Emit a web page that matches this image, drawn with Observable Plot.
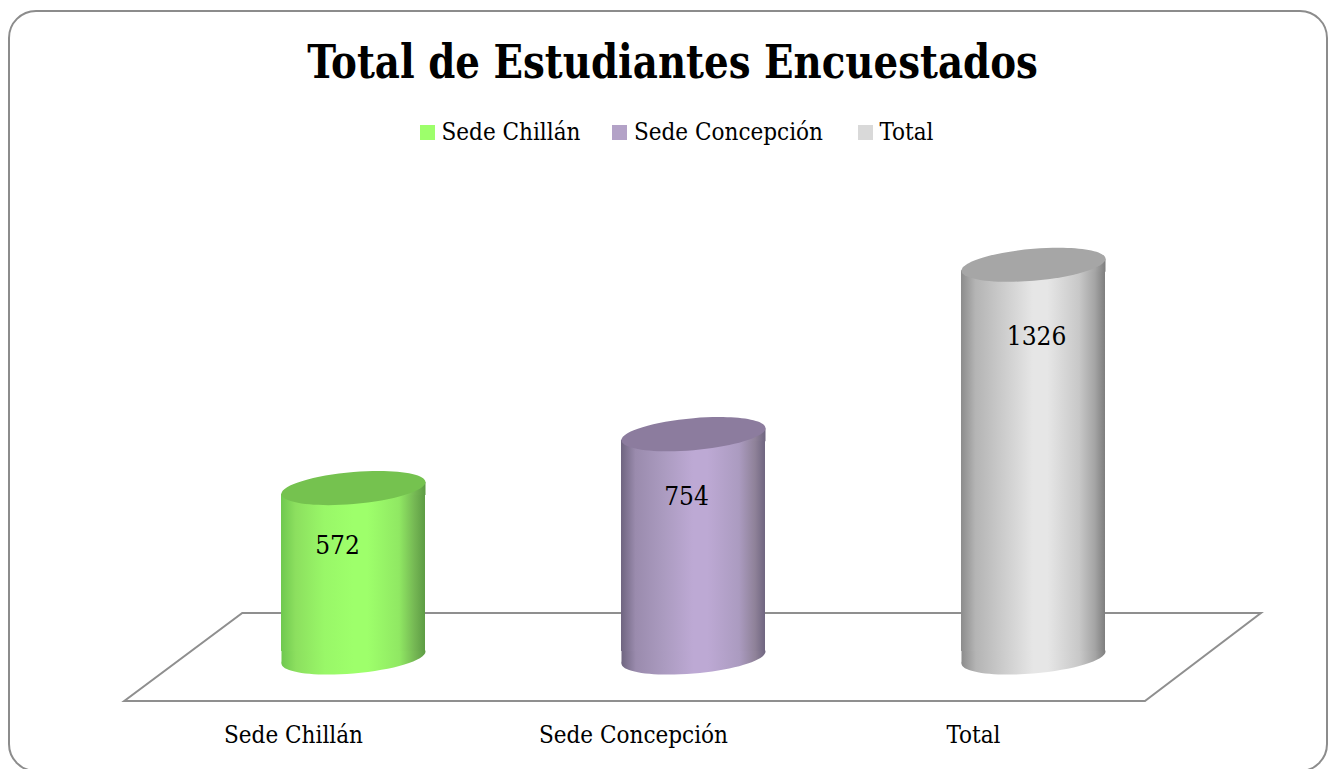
<!DOCTYPE html>
<html lang="es">
<head>
<meta charset="utf-8">
<script src="https://cdn.jsdelivr.net/npm/d3@7"></script>
<script src="https://cdn.jsdelivr.net/npm/@observablehq/plot@0.6"></script>
<style>
html,body{margin:0;padding:0;width:1336px;height:769px;overflow:hidden;background:#fff}
body{position:relative;font-family:"DejaVu Serif Condensed","DejaVu Serif",serif;color:#000}
#frame{position:absolute;left:8px;top:10px;width:1320px;height:762px;border:2px solid #8c8c8c;border-radius:28px;box-sizing:border-box}
h1{position:absolute;left:0;width:1345px;top:31px;margin:0;text-align:center;font-size:46px;line-height:62px;font-weight:700;transform:scaleX(.937);transform-origin:672.5px 0}
#legend{position:absolute;top:116px;left:420px;height:32px;display:flex;align-items:center;font-size:24px;white-space:nowrap}
#legend i{display:inline-block;width:15px;height:15px;margin-right:6.5px}
#legend span{display:inline-block}
#chart{position:absolute;left:0;top:160px}
</style>
</head>
<body>
<div id="frame"></div>
<h1>Total de Estudiantes Encuestados</h1>
<div id="legend"></div>
<div id="chart"></div>
<script>
const categories = ["Sede Chillán", "Sede Concepción", "Total"];
const values = [572, 754, 1326];
const legendColors = ["#9dff6b", "#b3a2c7", "#d9d9d9"];
const topColors = ["#75c24f", "#8c7c9e", "#a6a6a6"];
const sideStops = [
  ["#6fc84f", "#8cdf5f", "#99f768", "#9eff6b", "#9eff6b", "#90e863", "#74b653", "#5d9c44"],
  ["#6f6580", "#9a8bad", "#ab9bc0", "#bda9d4", "#bda9d4", "#ab9bc0", "#8f8299", "#6f6580"],
  ["#8c8c8c", "#b4b4b4", "#cdcdcd", "#e6e6e6", "#e6e6e6", "#c8c8c8", "#a4a4a4", "#7e7e7e"]
];
const stopOffsets = [0, 0.1, 0.3, 0.5, 0.6, 0.82, 0.93, 1];

const table = categories.map((name, i) => ({name, value: values[i], base: 0}));

const legend = document.getElementById("legend");
const legendGaps = [32, 35, 0];
categories.forEach((name, i) => {
  const sw = document.createElement("i");
  sw.style.background = legendColors[i];
  const tx = document.createElement("span");
  tx.textContent = name;
  tx.style.marginRight = legendGaps[i] + "px";
  legend.append(sw, tx);
});

const tilt = 0.083, squash = 0.111, K = 0.5523;
const capSymbol = {
  draw(c, size) {
    const a = Math.sqrt(size / Math.PI), b = a * (squash * 2), s = tilt;
    const P = (X, Y) => [a * X, -s * a * X + b * Y];
    const curve = (p1, p2, p3) => c.bezierCurveTo(...P(...p1), ...P(...p2), ...P(...p3));
    c.moveTo(...P(1, 0));
    curve([1, K], [K, 1], [0, 1]);
    curve([-K, 1], [-1, K], [-1, 0]);
    curve([-1, -K], [-K, -1], [0, -1]);
    curve([K, -1], [1, -K], [1, 0]);
    c.closePath();
  }
};
// Wedges that join the shortened bar to the tilted ellipses' tangent points; 1px overlap hides the seam
const topWedge = {
  draw(c, size) {
    const a = Math.sqrt(size / Math.PI), t = tilt * a;
    c.moveTo(-a, t + 1); c.lineTo(a, t + 1); c.lineTo(a, -t); c.closePath();
  }
};
const baseWedge = {
  draw(c, size) {
    const a = Math.sqrt(size / Math.PI), t = tilt * a;
    c.moveTo(-a, -t - 1); c.lineTo(a, -t - 1); c.lineTo(-a, t); c.closePath();
  }
};

const defsMark = () => {
  const d = document.createElementNS("http://www.w3.org/2000/svg", "defs");
  d.innerHTML = sideStops.map((st, i) =>
    `<linearGradient id="side${i}" x1="0" x2="1" y1="0" y2="0">` +
    st.map((col, j) => `<stop offset="${stopOffsets[j]}" stop-color="${col}"/>`).join("") +
    `</linearGradient>`).join("");
  return d;
};

const floorMark = (index, {x, y}) => {
  const g = document.createElementNS("http://www.w3.org/2000/svg", "path");
  const step = x(categories[1]) - x(categories[0]);
  const x0 = x(categories[0]) - 0.461 * step;
  const x1 = x(categories[2]) + x.bandwidth() + 0.1175 * step;
  const y0 = y(0), front = y0 + 44, back = y0 - 44;
  g.setAttribute("d", `M${x0},${front}L${x1},${front}L${x1 + 116},${back}L${x0 + 118},${back}Z`);
  g.setAttribute("fill", "none");
  g.setAttribute("stroke", "#8f8f8f");
  g.setAttribute("stroke-width", 2);
  return g;
};

const R = 72;
const inset = tilt * R;
const sideFill = d => d.name;
const labelOffsets = [[-16, 58], [-7, 63], [3, 72]];

const chart = Plot.plot({
  width: 1336,
  height: 609,
  marginLeft: 83.5,
  marginRight: 34.5,
  marginTop: 82.3,
  marginBottom: 112,
  style: {fontFamily: '"DejaVu Serif Condensed", "DejaVu Serif", serif', background: "transparent", color: "#000", overflow: "hidden"},
  x: {domain: categories, padding: 0.577, label: null},
  y: {domain: [0, 1400], axis: null, label: null},
  color: {domain: categories, range: categories.map((_, i) => `url(#side${i})`)},
  marks: [
    defsMark,
    floorMark,
    Plot.dot(table, {x: "name", y: "base", r: R, symbol: capSymbol, fill: sideFill, stroke: null}),
    Plot.dot(table, {x: "name", y: "base", r: R, symbol: baseWedge, fill: sideFill, stroke: null}),
    Plot.barY(table, {x: "name", y: "value", fill: sideFill, insetTop: inset, insetBottom: inset}),
    Plot.dot(table, {x: "name", y: "value", r: R, symbol: topWedge, fill: sideFill, stroke: null}),
    ...categories.map((name, i) =>
      Plot.dot(table.filter(d => d.name === name), {x: "name", y: "value", r: R, symbol: capSymbol, fill: topColors[i], stroke: null})),
    ...categories.map((name, i) =>
      Plot.text(table.filter(d => d.name === name), {
        x: "name", y: "value", text: d => String(d.value),
        dx: labelOffsets[i][0], dy: labelOffsets[i][1],
        fontSize: 26, fill: "#000"
      })),
    Plot.axisX({tickSize: 0, tickPadding: 68.5, dx: -60, fontSize: 24, label: null, fill: "#000"})
  ]
});
document.getElementById("chart").append(chart);
</script>
</body>
</html>
